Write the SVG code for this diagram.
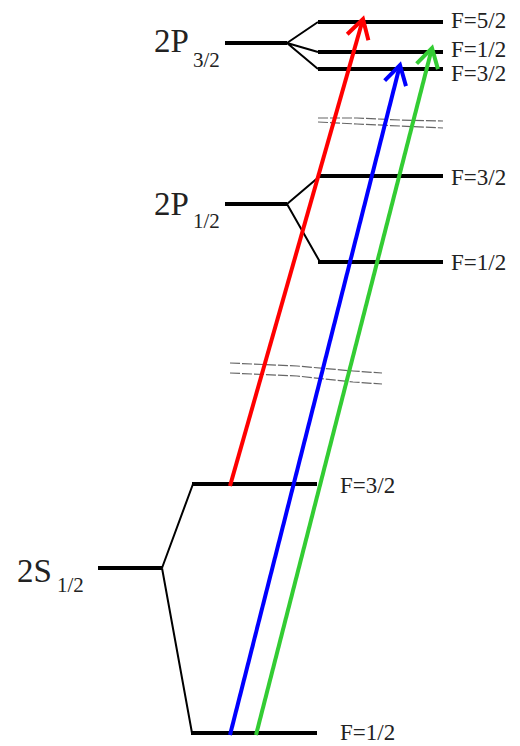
<svg xmlns="http://www.w3.org/2000/svg" width="520" height="746" viewBox="0 0 520 746">
<style>
.lvl{stroke:#000;stroke-width:4;fill:none;stroke-linecap:butt}
.br{stroke:#000;stroke-width:2;fill:none}
.brk{stroke:#666;stroke-width:1.2;fill:none;stroke-dasharray:10 2}
text{font-family:'Liberation Serif','DejaVu Serif','Noto Serif',serif;fill:#222}
.lab{font-size:23px}
.big{font-size:33px}
.sub{font-size:21px}
.arr{stroke-width:4;fill:none}
</style>
<defs>
<marker id="hr" markerUnits="userSpaceOnUse" orient="auto" markerWidth="30" markerHeight="30" refX="0" refY="0" viewBox="-22 -15 30 30" overflow="visible"><path d="M-19,-11 L0,0 L-19,11" fill="none" stroke="#ff0000" stroke-width="4"/></marker>
<marker id="hb" markerUnits="userSpaceOnUse" orient="auto" markerWidth="30" markerHeight="30" refX="0" refY="0" viewBox="-22 -15 30 30" overflow="visible"><path d="M-19,-11 L0,0 L-19,11" fill="none" stroke="#0000ff" stroke-width="4"/></marker>
<marker id="hg" markerUnits="userSpaceOnUse" orient="auto" markerWidth="30" markerHeight="30" refX="0" refY="0" viewBox="-22 -15 30 30" overflow="visible"><path d="M-19,-11 L0,0 L-19,11" fill="none" stroke="#33cc33" stroke-width="4"/></marker>
</defs>

<g id="P32">
<line class="lvl" x1="225" y1="43" x2="287" y2="43"/>
<path class="br" d="M287,43 L318,22 M287,43 L318,52 M287,43 L318,69"/>
<line class="lvl" x1="318" y1="22" x2="443" y2="22"/>
<line class="lvl" x1="318" y1="52" x2="443" y2="52"/>
<line class="lvl" x1="318" y1="69" x2="443" y2="69"/>
<text class="big" x="154" y="52" font-family="Liberation Serif, serif">2P</text>
<text class="sub" x="193" y="67" font-family="Liberation Serif, serif">3/2</text>
<text class="lab" x="451" y="28" font-family="Liberation Serif, serif">F=5/2</text>
<text class="lab" x="451" y="57" font-family="Liberation Serif, serif">F=1/2</text>
<text class="lab" x="451" y="81" font-family="Liberation Serif, serif">F=3/2</text>
</g>

<g id="P12">
<line class="lvl" x1="225" y1="204" x2="287" y2="204"/>
<path class="br" d="M287,204 L320,176 M287,204 L320,262"/>
<line class="lvl" x1="318" y1="176" x2="443" y2="176"/>
<line class="lvl" x1="318" y1="262" x2="443" y2="262"/>
<text class="big" x="154" y="215" font-family="Liberation Serif, serif">2P</text>
<text class="sub" x="193" y="228" font-family="Liberation Serif, serif">1/2</text>
<text class="lab" x="451" y="185" font-family="Liberation Serif, serif">F=3/2</text>
<text class="lab" x="451" y="270" font-family="Liberation Serif, serif">F=1/2</text>
</g>

<g id="S12">
<line class="lvl" x1="98" y1="568" x2="162" y2="568"/>
<path class="br" d="M162,568 L193,484 M162,568 L192,733"/>
<line class="lvl" x1="192" y1="484" x2="317" y2="484"/>
<line class="lvl" x1="191" y1="733" x2="317" y2="733"/>
<text class="big" x="17" y="582" font-family="Liberation Serif, serif">2S</text>
<text class="sub" x="57" y="592" font-family="Liberation Serif, serif">1/2</text>
<text class="lab" x="340" y="493" font-family="Liberation Serif, serif">F=3/2</text>
<text class="lab" x="340" y="740" font-family="Liberation Serif, serif">F=1/2</text>
</g>

<g id="breaks">
<path class="brk" d="M318,118 L357,118 L400,120 L443,121"/>
<path class="brk" d="M318,122 L357,124 L400,126 L443,128"/>
<path class="brk" d="M230,363 L297,366 L353,371 L382,373"/>
<path class="brk" d="M230,373 L297,376 L353,382 L382,384"/>
</g>

<g id="connectors">
<line class="arr" stroke="#ff0000" x1="230" y1="486" x2="363" y2="19" marker-end="url(#hr)"/>
<line class="arr" stroke="#0000ff" x1="230" y1="735" x2="400" y2="65" marker-end="url(#hb)"/>
<line class="arr" stroke="#33cc33" x1="256" y1="735" x2="432" y2="48" marker-end="url(#hg)"/>
</g>
</svg>
